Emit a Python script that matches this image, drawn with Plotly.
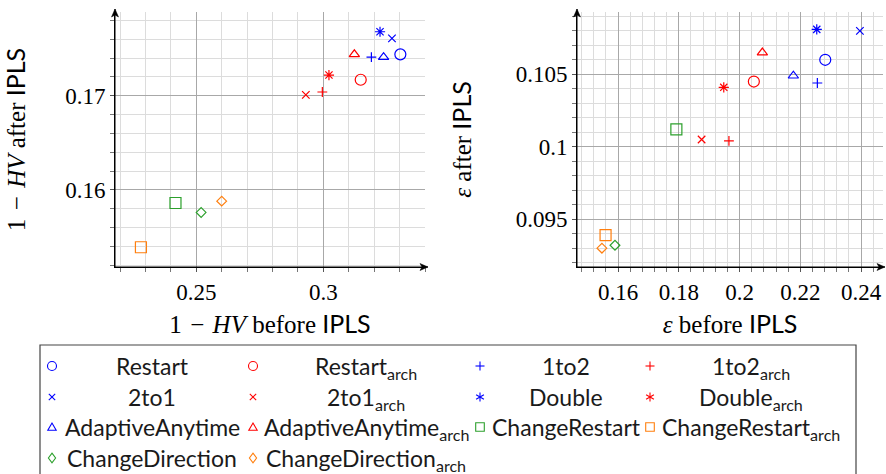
import plotly.graph_objects as go
from plotly.subplots import make_subplots

# ---------------- data ----------------
methods = ["Restart", "Restart_arch", "1to2", "1to2_arch", "2to1", "2to1_arch",
           "Double", "Double_arch", "AdaptiveAnytime", "AdaptiveAnytime_arch",
           "ChangeRestart", "ChangeRestart_arch", "ChangeDirection", "ChangeDirection_arch"]
hv_before = [0.3303, 0.3147, 0.3189, 0.2996, 0.3270, 0.2931, 0.3223, 0.3022,
             0.3237, 0.3122, 0.2418, 0.2282, 0.2519, 0.2600]
hv_after = [0.1744, 0.1717, 0.1741, 0.1704, 0.1761, 0.1701, 0.1768, 0.1722,
            0.1741, 0.1744, 0.1586, 0.1539, 0.1576, 0.1588]
eps_before = [0.2282, 0.2047, 0.2256, 0.1965, 0.2396, 0.1875, 0.2254, 0.1948,
              0.2177, 0.2075, 0.1792, 0.1559, 0.1590, 0.1547]
eps_after = [0.1060, 0.1045, 0.1044, 0.1004, 0.1080, 0.1005, 0.1081, 0.1041,
             0.1049, 0.1065, 0.1012, 0.0939, 0.0932, 0.0930]

# ---------------- styles ----------------
BLUE, RED, GREEN, ORANGE = "#0000ff", "#ff0000", "#2ca02c", "#ff7f0e"
colors = [BLUE, RED, BLUE, RED, BLUE, RED, BLUE, RED, BLUE, RED, GREEN, ORANGE, GREEN, ORANGE]
symbols = ["circle-open", "circle-open", "cross-thin-open", "cross-thin-open",
           "x-thin-open", "x-thin-open", "asterisk-open", "asterisk-open",
           "triangle-up-open", "triangle-up-open", "square-open", "square-open",
           "diamond-open", "diamond-open"]
sizes = [11, 11, 7, 7, 7.5, 7.5, 8.5, 8.5, 9, 9, 11, 11, 7.5, 7.5]
key_kinds = ["circle", "circle", "plus", "plus", "x", "x", "star", "star",
             "triangle", "triangle", "square", "square", "diamond", "diamond"]

SERIF = "Liberation Serif"
SANS = "Lato"
W, H = 886, 474
TICK_SIZE = 23
TITLE_SIZE = 25

fig = make_subplots(rows=1, cols=2)

for i, name in enumerate(methods):
    mk = dict(symbol=symbols[i], size=sizes[i], color=colors[i],
              line=dict(color=colors[i], width=1.2))
    fig.add_trace(go.Scatter(x=[hv_before[i]], y=[hv_after[i]], mode="markers",
                             marker=mk, name=name, showlegend=False), row=1, col=1)
    fig.add_trace(go.Scatter(x=[eps_before[i]], y=[eps_after[i]], mode="markers",
                             marker=mk, name=name, showlegend=False), row=1, col=2)

def px_x(p):
    return p / W

def px_y(p):
    return 1 - p / H

ydom = [px_y(267), px_y(12)]
common = dict(showline=True, linecolor="black", linewidth=1, zeroline=False,
              ticks="outside", ticklen=4, tickcolor="#555", showgrid=True,
              gridcolor="#a8a8a8", gridwidth=1, automargin=False,
              tickfont=dict(family=SERIF, size=TICK_SIZE, color="black"))
minor_common = dict(tick0=0, showgrid=True, gridcolor="#dcdcdc",
                    ticks="outside", ticklen=4, tickcolor="#777")
IPLS = "<span style='font-family:Lato'>IPLS</span>"
ONE_MINUS_HV = "1\u2004−\u2004<i>HV</i>"
title_font = dict(family=SERIF, size=TITLE_SIZE, color="black")

fig.update_xaxes(domain=[px_x(115), px_x(425)], range=[0.218, 0.34], dtick=0.05, tick0=0,
                 minor=dict(dtick=0.01, **minor_common),
                 title=dict(text=ONE_MINUS_HV + " before " + IPLS, font=title_font, standoff=11),
                 row=1, col=1, **common)
fig.update_yaxes(domain=ydom, range=[0.1518, 0.1789], dtick=0.01, tick0=0,
                 minor=dict(dtick=0.002, **minor_common),
                 title=dict(text=ONE_MINUS_HV + " after " + IPLS, font=title_font, standoff=34),
                 row=1, col=1, **common)
fig.update_xaxes(domain=[px_x(577), px_x(883)], range=[0.1465, 0.2472], dtick=0.02, tick0=0,
                 minor=dict(dtick=0.004, **minor_common),
                 title=dict(text="<i>ε</i> before " + IPLS, font=title_font, standoff=11),
                 row=1, col=2, **common)
fig.update_yaxes(domain=ydom, range=[0.0917, 0.1093], dtick=0.005, tick0=0,
                 minor=dict(dtick=0.001, **minor_common),
                 title=dict(text="<i>ε</i> after " + IPLS, font=title_font, standoff=36),
                 row=1, col=2, **common)

shapes = []

def path_of(pts, closed=True):
    s = "M " + " L ".join(f"{px_x(a):.5f},{px_y(b):.5f}" for a, b in pts)
    return s + (" Z" if closed else "")

# axis arrow heads (decoration)
def arrow_pts(xp, yp, direction):
    if direction == "up":
        return [(xp, yp), (xp - 3.5, yp + 8), (xp, yp + 6), (xp + 3.5, yp + 8)]
    return [(xp, yp), (xp - 8, yp - 3.5), (xp - 6, yp), (xp - 8, yp + 3.5)]

for (x0, y0, x1, y1, d) in [(115, 267, 115, 9, "up"), (115, 267, 428, 267, "right"),
                            (577, 267, 577, 9, "up"), (577, 267, 885, 267, "right")]:
    shapes.append(dict(type="line", xref="paper", yref="paper",
                       x0=px_x(x0), y0=px_y(y0), x1=px_x(x1), y1=px_y(y1),
                       line=dict(color="black", width=1)))
    shapes.append(dict(type="path", xref="paper", yref="paper", path=path_of(arrow_pts(x1, y1, d)),
                       fillcolor="black", line=dict(color="black", width=0.5)))

# legend keys drawn as small outline shapes
def legend_key(kind, cx, cy, color):
    ln = dict(color=color, width=1.1)
    out = []
    def seg(a, b, c, d):
        out.append(dict(type="line", xref="paper", yref="paper", x0=px_x(a), y0=px_y(b),
                        x1=px_x(c), y1=px_y(d), line=ln))
    if kind == "circle":
        out.append(dict(type="circle", xref="paper", yref="paper", x0=px_x(cx - 4.5),
                        x1=px_x(cx + 4.5), y0=px_y(cy + 4.5), y1=px_y(cy - 4.5), line=ln))
    elif kind == "plus":
        seg(cx - 4.5, cy, cx + 4.5, cy)
        seg(cx, cy - 4.5, cx, cy + 4.5)
    elif kind == "x":
        seg(cx - 3.2, cy - 3.2, cx + 3.2, cy + 3.2)
        seg(cx - 3.2, cy + 3.2, cx + 3.2, cy - 3.2)
    elif kind == "star":
        seg(cx, cy - 4.5, cx, cy + 4.5)
        seg(cx - 3.9, cy - 2.25, cx + 3.9, cy + 2.25)
        seg(cx - 3.9, cy + 2.25, cx + 3.9, cy - 2.25)
    elif kind == "triangle":
        out.append(dict(type="path", xref="paper", yref="paper", line=ln,
                        path=path_of([(cx - 4.2, cy + 3.3), (cx + 4.2, cy + 3.3), (cx, cy - 4)])))
    elif kind == "square":
        out.append(dict(type="rect", xref="paper", yref="paper", x0=px_x(cx - 4.3),
                        x1=px_x(cx + 4.3), y0=px_y(cy + 4.3), y1=px_y(cy - 4.3), line=ln))
    elif kind == "diamond":
        out.append(dict(type="path", xref="paper", yref="paper", line=ln,
                        path=path_of([(cx, cy - 4.8), (cx + 3.6, cy), (cx, cy + 4.8), (cx - 3.6, cy)])))
    return out

# ---------------- manual legend ----------------
annos = []
marker_x = [52, 253, 480, 650]
text_x = [152, 366, 566, 751]
row_y = [366, 397, 427, 458]
for i, name in enumerate(methods):
    r, c = divmod(i, 4)
    label = name.replace("_arch", "<sub>arch</sub>")
    shapes.extend(legend_key(key_kinds[i], marker_x[c], row_y[r], colors[i]))
    annos.append(dict(xref="paper", yref="paper", x=px_x(text_x[c]), y=px_y(row_y[r] - 16),
                      text=label, showarrow=False, xanchor="center", yanchor="top",
                      font=dict(family=SANS, size=23, color="#1a1a1a")))

shapes.append(dict(type="rect", xref="paper", yref="paper",
                   x0=px_x(40), x1=px_x(856), y0=px_y(490), y1=px_y(345),
                   line=dict(color="#444", width=1.2)))

fig.update_layout(width=W, height=H, margin=dict(l=0, r=0, t=0, b=0),
                  paper_bgcolor="white", plot_bgcolor="white",
                  annotations=annos, shapes=shapes, showlegend=False)

fig.write_html("out.html", config={"displayModeBar": False},
               post_script="document.body.style.margin='0';")
